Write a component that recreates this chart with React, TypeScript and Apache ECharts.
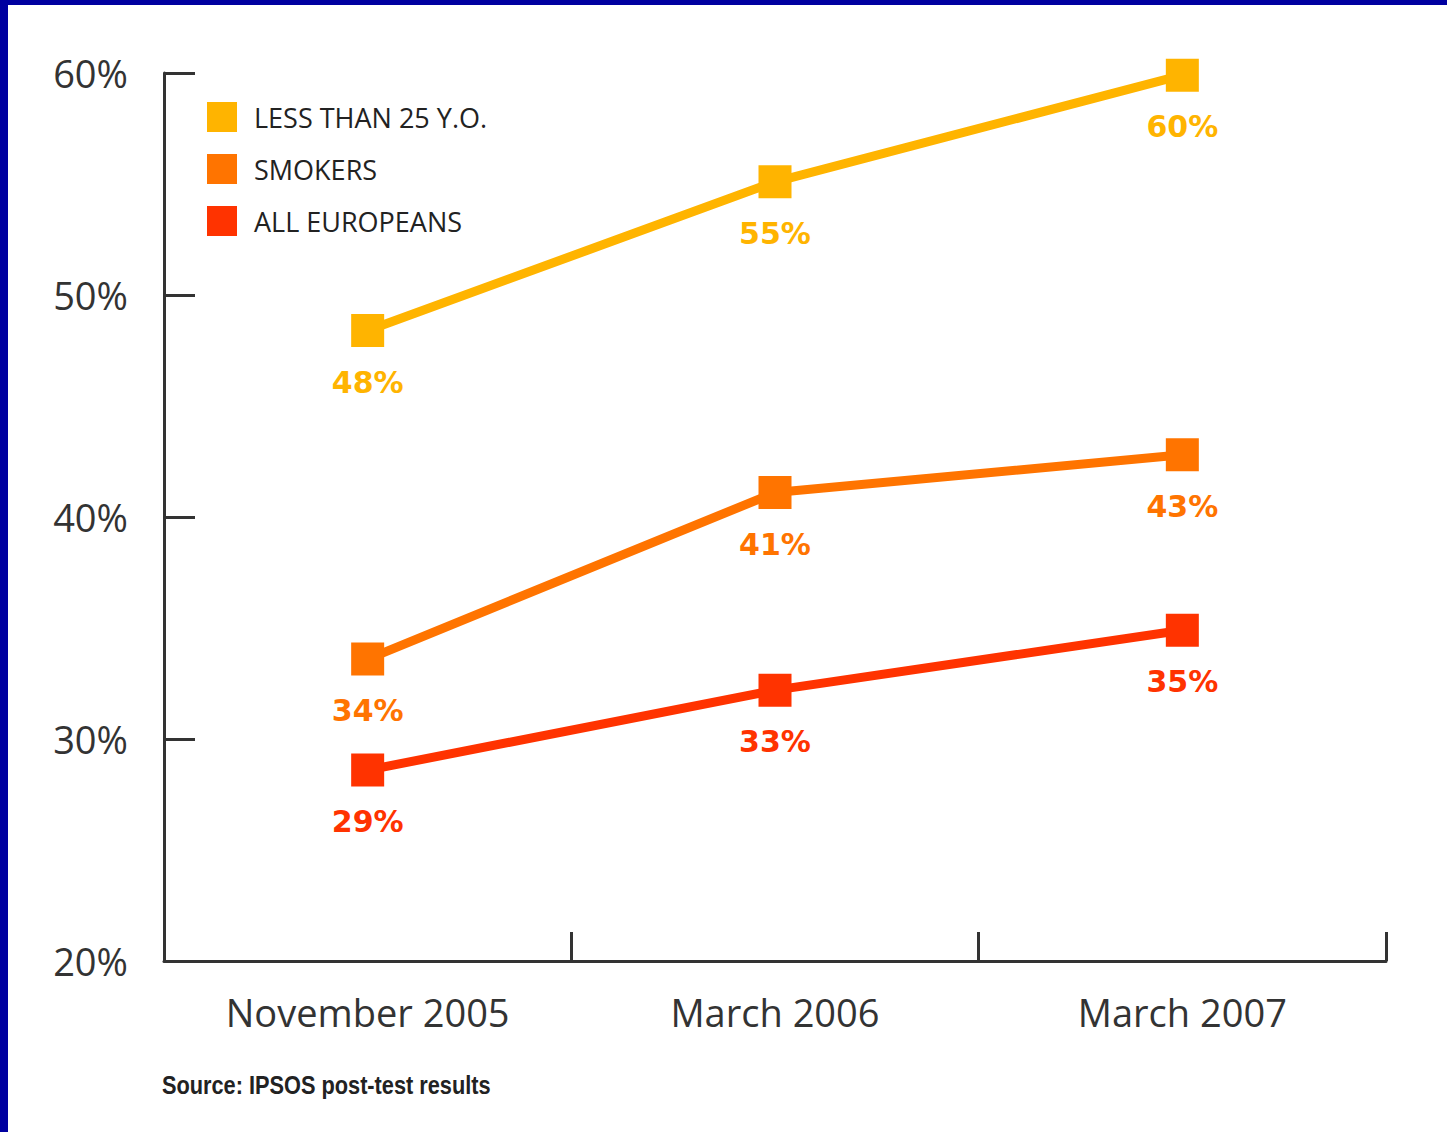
import React, { useEffect, useRef } from "react";
import * as echarts from "echarts";

const categories = ["November 2005", "March 2006", "March 2007"];
const seriesNames = ["LESS THAN 25 Y.O.", "SMOKERS", "ALL EUROPEANS"];
const under25Values = [48.4, 55.1, 59.9];
const smokersValues = [33.6, 41.1, 42.8];
const allEuropeansValues = [28.6, 32.2, 34.9];
const under25Labels = ["48%", "55%", "60%"];
const smokersLabels = ["34%", "41%", "43%"];
const allEuropeansLabels = ["29%", "33%", "35%"];
const yTicks = [20, 30, 40, 50, 60];
const sourceText = "Source: IPSOS post-test results";

const colors = ["#FFB400", "#FF7400", "#FF3300"];

export default function App() {
  const ref = useRef<HTMLDivElement>(null);
  useEffect(() => {
    document.body.style.margin = "0";
    if (!ref.current) return;
    const chart = echarts.init(ref.current, null, { renderer: "svg" });
    const mk = (name: string, values: number[], labels: string[], color: string) => ({
      name,
      type: "line",
      data: values,
      symbol: "rect",
      symbolSize: 33,
      lineStyle: { color, width: 9 },
      itemStyle: { color },
      label: {
        show: true,
        position: "bottom",
        distance: 20,
        color,
        fontFamily: "DejaVu Sans",
        fontWeight: "bold",
        fontSize: 30,
        formatter: (p: any) => labels[p.dataIndex],
      },
      z: 3,
    });
    chart.setOption({
      animation: false,
      backgroundColor: "#ffffff",
      grid: { left: 164, right: 61, top: 73, bottom: 171, containLabel: false },
      legend: {
        orient: "vertical",
        left: 207,
        top: 102,
        padding: 0,
        itemWidth: 30,
        itemHeight: 30,
        itemGap: 22,
        icon: "rect",
        data: seriesNames,
        textStyle: {
          fontFamily: "Open Sans",
          fontSize: 27,
          color: "#222222",
          padding: [0, 0, 0, 12],
        },
      },
      xAxis: {
        type: "category",
        data: categories,
        boundaryGap: true,
        axisLine: { lineStyle: { color: "#333333", width: 3 } },
        axisTick: { show: true, inside: true, length: 29, lineStyle: { color: "#333333", width: 3 } },
        axisLabel: { fontFamily: "Open Sans", fontSize: 38, color: "#333333", margin: 32 },
        splitLine: { show: false },
      },
      yAxis: {
        type: "value",
        min: yTicks[0],
        max: yTicks[yTicks.length - 1],
        interval: 10,
        axisLine: { show: true, lineStyle: { color: "#333333", width: 3 } },
        axisTick: { show: true, inside: true, length: 31, lineStyle: { color: "#333333", width: 3 } },
        axisLabel: {
          fontFamily: "Open Sans",
          fontSize: 38,
          color: "#333333",
          margin: 36,
          formatter: (v: number) => `${v}%`,
        },
        splitLine: { show: false },
      },
      graphic: [
        { type: "rect", left: 0, top: 0, shape: { width: 1447, height: 5 }, style: { fill: "#0000A0" }, z: 100 },
        { type: "rect", left: 0, top: 0, shape: { width: 8, height: 1132 }, style: { fill: "#0000A0" }, z: 100 },
        {
          type: "text",
          x: 162,
          y: 1073,
          scaleX: 0.87,
          style: {
            text: sourceText,
            fontFamily: "Liberation Sans",
            fontWeight: "bold",
            fontSize: 25,
            fill: "#222222",
          },
        },
      ],
      series: [
        mk(seriesNames[0], under25Values, under25Labels, colors[0]),
        mk(seriesNames[1], smokersValues, smokersLabels, colors[1]),
        mk(seriesNames[2], allEuropeansValues, allEuropeansLabels, colors[2]),
      ],
    });
    return () => chart.dispose();
  }, []);
  return <div ref={ref} style={{ width: 1447, height: 1132 }} />;
}
